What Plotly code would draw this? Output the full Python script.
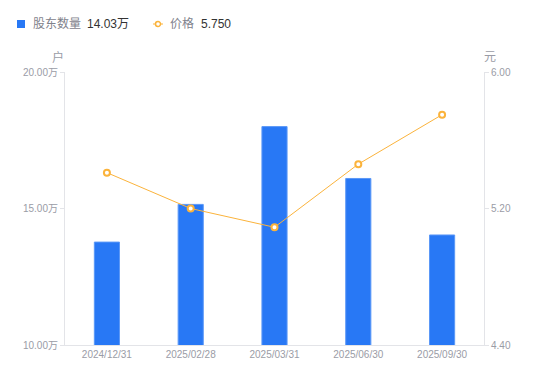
import plotly.graph_objects as go

categories = ["2024/12/31", "2025/02/28", "2025/03/31", "2025/06/30", "2025/09/30"]
holders = [13.77, 15.15, 18.00, 16.10, 14.03]   # 万户
prices = [5.41, 5.20, 5.09, 5.46, 5.75]          # 元
left_ticks = [10, 15, 20]
left_ticktext = ["10.00万", "15.00万", "20.00万"]
right_ticks = [4.4, 5.2, 6.0]
right_ticktext = ["4.40", "5.20", "6.00"]
legend_names = ["股东数量", "价格"]
legend_values = ["14.03万", "5.750"]

FONT = "Liberation Sans, Arial, Noto Sans CJK SC, sans-serif"
GRAY = "#9a9ca6"
AXIS = "#e3e4e8"
BLUE = "#2878F5"
ORANGE = "#FBB33B"

fig = go.Figure()
fig.add_trace(go.Bar(
    x=categories, y=holders, yaxis="y", name=legend_names[0],
    marker=dict(color=BLUE, line=dict(color="#5b98f7", width=1)),
    width=0.3,
))
fig.add_trace(go.Scatter(
    x=categories, y=prices, yaxis="y2", mode="lines+markers", name=legend_names[1],
    line=dict(color=ORANGE, width=1),
    marker=dict(symbol="circle", size=6, color="white", line=dict(color=ORANGE, width=2)),
))

ann = [
    dict(text="户", xref="paper", yref="paper", x=-0.017, y=1.0, yshift=15,
         showarrow=False, font=dict(size=12, color=GRAY), xanchor="center", yanchor="middle"),
    dict(text="元", xref="paper", yref="paper", x=1.0, y=1.0, yshift=15, xshift=6,
         showarrow=False, font=dict(size=12, color=GRAY), xanchor="center", yanchor="middle"),
    # legend texts
    dict(text=legend_names[0], xref="paper", yref="paper", x=-34/419, y=1 + 48/273,
         xanchor="left", yanchor="middle", showarrow=False, font=dict(size=12, color="#7f828c")),
    dict(text=legend_values[0], xref="paper", yref="paper", x=20/419, y=1 + 48/273,
         xanchor="left", yanchor="middle", showarrow=False, font=dict(size=12, color="#333333")),
    dict(text=legend_names[1], xref="paper", yref="paper", x=103/419, y=1 + 48/273,
         xanchor="left", yanchor="middle", showarrow=False, font=dict(size=12, color="#7f828c")),
    dict(text=legend_values[1], xref="paper", yref="paper", x=134/419, y=1 + 48/273,
         xanchor="left", yanchor="middle", showarrow=False, font=dict(size=12, color="#333333")),
]
shapes = [
    dict(type="rect", xref="paper", yref="paper", x0=-48/419, x1=-40/419,
         y0=1 + 44/273, y1=1 + 52/273, fillcolor=BLUE, line=dict(width=0)),
    dict(type="line", xref="paper", yref="paper", x0=88/419, x1=98/419,
         y0=1 + 48/273, y1=1 + 48/273, line=dict(color=ORANGE, width=1)),
    dict(type="circle", xref="paper", yref="paper", x0=90.5/419, x1=95.5/419,
         y0=1 + 45.5/273, y1=1 + 50.5/273, fillcolor="white", line=dict(color=ORANGE, width=1.5)),
]

fig.update_layout(
    width=550, height=381,
    margin=dict(l=65, r=66, t=72, b=36, autoexpand=False),
    paper_bgcolor="white", plot_bgcolor="white",
    font=dict(family=FONT, size=10, color=GRAY),
    showlegend=False,
    xaxis=dict(type="category", showgrid=False, showline=True, linecolor=AXIS,
               ticks="", tickfont=dict(size=10, color=GRAY), range=[-0.5, 4.5],
               automargin=False),
    yaxis=dict(range=[10, 20], tickvals=left_ticks, ticktext=left_ticktext,
               showgrid=False, showline=True, linecolor=AXIS, ticks="outside",
               ticklen=4, tickcolor=AXIS, zeroline=False, automargin=False,
               tickfont=dict(size=10, color=GRAY)),
    yaxis2=dict(range=[4.4, 6.0], tickvals=right_ticks, ticktext=right_ticktext,
                overlaying="y", side="right", showgrid=False, showline=True,
                linecolor=AXIS, ticks="outside", ticklen=4, tickcolor=AXIS,
                zeroline=False, automargin=False, tickfont=dict(size=10, color=GRAY)),
    annotations=ann,
    shapes=shapes,
)

fig.write_html("out.html", config={"displayModeBar": False},
               post_script="document.body.style.margin='0';document.body.style.padding='0';")
